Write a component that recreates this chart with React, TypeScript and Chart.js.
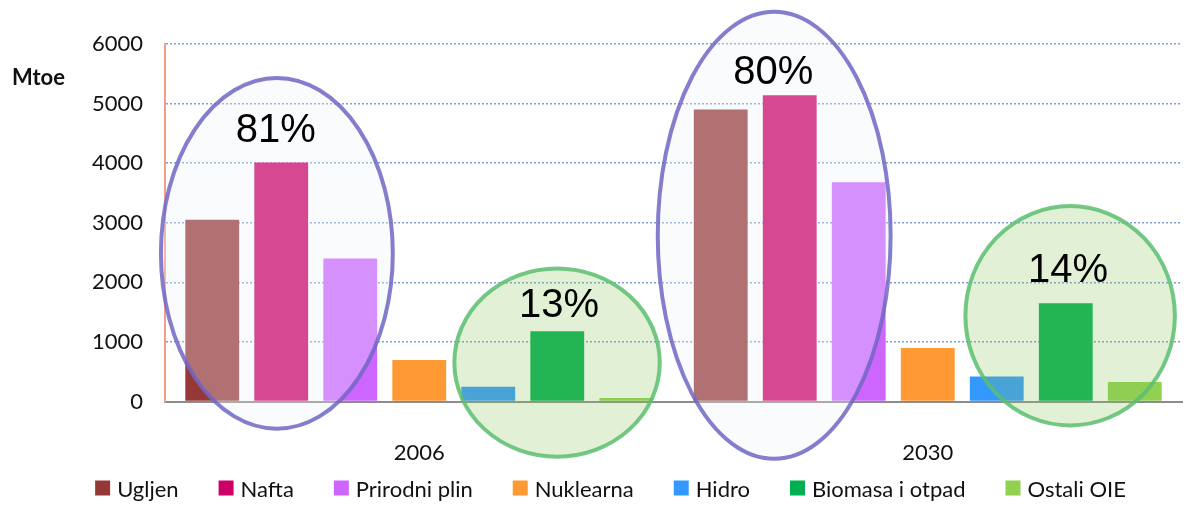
import React, { useEffect, useRef } from 'react';
import { Chart, registerables } from 'chart.js';

Chart.register(...registerables);

// ---- data ----
const years = ['2006', '2030'];
const seriesNames = ['Ugljen', 'Nafta', 'Prirodni plin', 'Nuklearna', 'Hidro', 'Biomasa i otpad', 'Ostali OIE'];
const ugljen = [3050, 4900];
const nafta = [4010, 5140];
const prirodniPlin = [2400, 3680];
const nuklearna = [700, 900];
const hidro = [250, 420];
const biomasa = [1180, 1650];
const ostali = [60, 330];
const seriesColors = ['#973838', '#cc0066', '#cc66ff', '#ff9933', '#3399ff', '#00b050', '#92d050'];
const yMin = 0;
const yMax = 6000;
const yStep = 1000;
const yUnit = 'Mtoe';

// share annotations (ellipses), in category/value units
const shareLabels = ['81%', '13%', '80%', '14%'];
const shareCategory = [0, 0, 1, 1];
const shareKind = ['fossil', 'renew', 'fossil', 'renew'];
const shareCenterOffset = [-0.28, 0.271, -0.302, 0.28];
const shareHalfWidth = [0.228, 0.202, 0.229, 0.206];
const shareTopValue = [5430, 2235, 6540, 3280];
const shareBottomValue = [-455, -925, -960, -400];
const shareLabelOffset = [-0.282, 0.275, -0.304, 0.276];
const shareLabelValue = [4540, 1600, 5510, 2200];

const seriesValues = [ugljen, nafta, prirodniPlin, nuklearna, hidro, biomasa, ostali];

const HUMAN = "Lato, 'Open Sans', sans-serif";
const SANS = "'Liberation Sans', Arial, sans-serif";

const overlayPlugin = {
  id: 'shareOverlay',
  afterDatasetsDraw(chart: any) {
    const { ctx, scales } = chart;
    const x = scales.x;
    const y = scales.y;
    const catW = x.getPixelForValue(1) - x.getPixelForValue(0);
    ctx.save();
    for (let i = 0; i < shareLabels.length; i++) {
      const c = x.getPixelForValue(shareCategory[i]);
      const cx = c + shareCenterOffset[i] * catW;
      const rx = shareHalfWidth[i] * catW;
      const yt = y.getPixelForValue(shareTopValue[i]);
      const yb = y.getPixelForValue(shareBottomValue[i]);
      const cy = (yt + yb) / 2;
      const ry = (yb - yt) / 2;
      ctx.beginPath();
      ctx.ellipse(cx, cy, rx, ry, 0, 0, Math.PI * 2);
      if (shareKind[i] === 'fossil') {
        ctx.fillStyle = 'rgba(238,242,250,0.3)';
        ctx.strokeStyle = 'rgba(112,102,196,0.85)';
      } else {
        ctx.fillStyle = 'rgba(141,196,90,0.25)';
        ctx.strokeStyle = 'rgba(92,190,112,0.85)';
      }
      ctx.fill();
      ctx.lineWidth = 4;
      ctx.stroke();
    }
    ctx.fillStyle = '#000';
    ctx.font = `40px ${SANS}`;
    ctx.textAlign = 'center';
    ctx.textBaseline = 'middle';
    for (let i = 0; i < shareLabels.length; i++) {
      const c = x.getPixelForValue(shareCategory[i]);
      ctx.fillText(shareLabels[i], c + shareLabelOffset[i] * catW, y.getPixelForValue(shareLabelValue[i]));
    }
    // unit label
    ctx.font = `bold 22px ${HUMAN}`;
    ctx.textAlign = 'left';
    ctx.fillStyle = '#111';
    ctx.fillText(yUnit, 12, chart.chartArea.top + 34);
    ctx.restore();
  },
  afterDraw(chart: any) {
    // legend row at the bottom
    const { ctx } = chart;
    const ds = chart.data.datasets;
    const box = 15;
    const textGap = 7;
    const itemGap = 40;
    ctx.save();
    ctx.font = `22px ${HUMAN}`;
    ctx.textBaseline = 'middle';
    ctx.textAlign = 'left';
    const widths = ds.map((d: any) => box + textGap + ctx.measureText(d.label).width);
    const total = widths.reduce((a: number, b: number) => a + b, 0) + itemGap * (ds.length - 1);
    let xPos = chart.width / 2 + 17 - total / 2;
    const yMid = chart.height - 15;
    ds.forEach((d: any, i: number) => {
      ctx.fillStyle = d.backgroundColor;
      ctx.fillRect(xPos, yMid - box / 2 - 2, box, box);
      ctx.fillStyle = '#111';
      ctx.fillText(d.label, xPos + box + textGap, yMid);
      xPos += widths[i] + itemGap;
    });
    ctx.restore();
  },
};

export default function App() {
  const ref = useRef<HTMLCanvasElement | null>(null);
  useEffect(() => {
    document.body.style.margin = '0';
    const canvas = ref.current;
    if (!canvas) return;
    const chart = new Chart(canvas, {
      type: 'bar',
      data: {
        labels: years,
        datasets: seriesNames.map((name, i) => ({
          label: name,
          data: seriesValues[i],
          backgroundColor: seriesColors[i],
          borderWidth: 0,
          categoryPercentage: 0.95,
          barPercentage: 0.78,
        })),
      },
      options: {
        animation: false,
        responsive: false,
        maintainAspectRatio: false,
        layout: { padding: { top: 44, right: 5, left: 0, bottom: 9 } },
        plugins: {
          legend: { display: false },
          tooltip: { enabled: false },
        },
        scales: {
          x: {
            grid: { display: false },
            border: { display: true, color: '#8c8c8c', width: 2 },
            ticks: { color: '#111', padding: 30, font: { family: HUMAN, size: 22 } },
          },
          y: {
            min: yMin,
            max: yMax,
            afterFit: (scale: any) => { scale.width = 165; },
            ticks: {
              stepSize: yStep,
              color: '#111',
              padding: 22,
              font: { family: HUMAN, size: 22 },
              callback: (v: any) => String(v),
            },
            grid: { color: '#7f9fd6', lineWidth: 1.5, drawTicks: false },
            border: { display: true, color: '#f0a088', width: 2, dash: [2, 2] },
          },
        },
      },
      plugins: [overlayPlugin],
    });
    return () => chart.destroy();
  }, []);
  return (
    <div style={{ width: 1187, height: 505 }}>
      <canvas ref={ref} width={1187} height={505} />
    </div>
  );
}
